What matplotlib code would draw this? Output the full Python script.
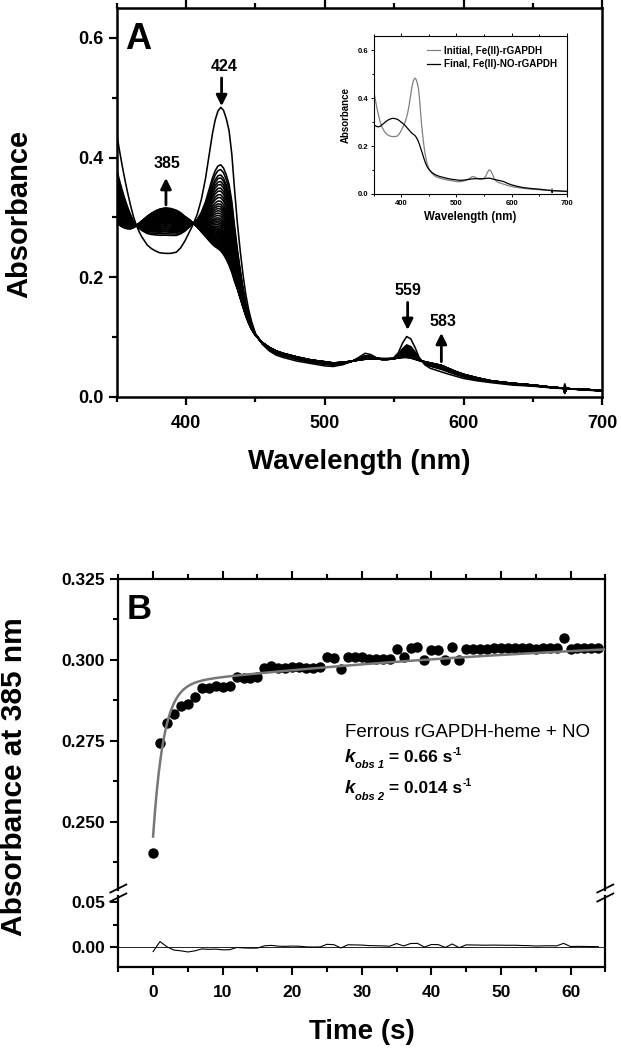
import numpy as np
import matplotlib
matplotlib.use('Agg')
import matplotlib.pyplot as plt
from matplotlib.ticker import MultipleLocator, FormatStrFormatter
from matplotlib.lines import Line2D
from matplotlib.transforms import IdentityTransform

plt.rcParams['font.family'] = ['Liberation Sans', 'DejaVu Sans']
plt.rcParams['font.weight'] = 'bold'
plt.rcParams['axes.labelweight'] = 'bold'

# ---------------- Panel A data ----------------
wavelength = [350, 352, 354, 356, 358, 360, 362, 364, 366, 368, 370, 372, 375, 378, 381,
              385, 389, 393, 396, 399, 402, 405, 408, 411, 414, 417, 419, 421, 423, 425,
              427, 429, 431, 433, 435, 437, 439, 441, 443, 445, 447, 450, 455, 460, 465,
              470, 480, 490, 500, 506, 513, 520, 525, 529, 533, 537, 541, 545, 549, 553,
              556, 559, 562, 565, 568, 572, 576, 580, 584, 588, 594, 600, 610, 620, 635,
              650, 665, 672, 673, 674, 685, 700]
initial_abs = [0.440, 0.412, 0.386, 0.362, 0.340, 0.320, 0.302, 0.288, 0.277, 0.268, 0.261, 0.254,
               0.248, 0.244, 0.241, 0.240, 0.240, 0.242, 0.249, 0.260, 0.274, 0.288, 0.305, 0.330,
               0.365, 0.410, 0.440, 0.463, 0.478, 0.484, 0.479, 0.465, 0.445, 0.405, 0.345, 0.290,
               0.245, 0.205, 0.172, 0.147, 0.128, 0.106, 0.088, 0.077, 0.070, 0.066, 0.060, 0.056,
               0.052, 0.051, 0.054, 0.060, 0.067, 0.073, 0.071, 0.066, 0.062, 0.062, 0.064, 0.074,
               0.090, 0.101, 0.097, 0.083, 0.066, 0.054, 0.048, 0.045, 0.042, 0.039, 0.035, 0.031,
               0.027, 0.024, 0.020, 0.018, 0.015, 0.014, 0.022, 0.014, 0.012, 0.010]
final_abs = [0.292, 0.287, 0.284, 0.282, 0.281, 0.281, 0.283, 0.286, 0.290, 0.294, 0.298, 0.302,
             0.307, 0.311, 0.314, 0.316, 0.315, 0.312, 0.308, 0.302, 0.297, 0.291, 0.284, 0.276,
             0.268, 0.260, 0.255, 0.251, 0.248, 0.244, 0.238, 0.230, 0.220, 0.208, 0.193, 0.180,
             0.165, 0.150, 0.136, 0.124, 0.114, 0.103, 0.091, 0.083, 0.077, 0.073, 0.067, 0.062,
             0.059, 0.057, 0.058, 0.060, 0.062, 0.063, 0.064, 0.064, 0.064, 0.064, 0.064, 0.065,
             0.066, 0.066, 0.065, 0.063, 0.061, 0.059, 0.057, 0.055, 0.053, 0.049, 0.043, 0.038,
             0.032, 0.027, 0.023, 0.020, 0.016, 0.015, 0.006, 0.014, 0.013, 0.011]
# absorbance at the Soret maximum of each recorded spectrum (time order)
peak424 = [0.484, 0.388, 0.380, 0.371, 0.366, 0.360, 0.355, 0.349, 0.344, 0.338, 0.333, 0.327,
           0.322, 0.318, 0.314, 0.310, 0.306, 0.302, 0.298, 0.295, 0.292, 0.289, 0.286, 0.283,
           0.280, 0.278, 0.276, 0.274, 0.272, 0.270, 0.268, 0.266, 0.264, 0.262, 0.260, 0.258,
           0.256, 0.254, 0.252, 0.250, 0.248, 0.246, 0.244]
legend_labels = ['Initial, Fe(II)-rGAPDH', 'Final, Fe(II)-NO-rGAPDH']

# ---------------- Panel B data ----------------
time_s = list(range(0, 65))
abs385 = [0.2404, 0.2745, 0.2806, 0.2833, 0.2858, 0.2864, 0.2887, 0.2915, 0.2915, 0.2921,
          0.2916, 0.2920, 0.2947, 0.2944, 0.2944, 0.2947, 0.2974, 0.2981, 0.2974, 0.2974,
          0.2979, 0.2979, 0.2974, 0.2974, 0.2977, 0.3008, 0.3005, 0.2971, 0.3008, 0.3008,
          0.3008, 0.3004, 0.3004, 0.3004, 0.3002, 0.3033, 0.3008, 0.3036, 0.3040, 0.3000,
          0.3030, 0.3030, 0.3000, 0.3040, 0.3000, 0.3033, 0.3033, 0.3033, 0.3033, 0.3036,
          0.3036, 0.3036, 0.3038, 0.3036, 0.3036, 0.3033, 0.3036, 0.3038, 0.3038, 0.3067,
          0.3033, 0.3036, 0.3036, 0.3036, 0.3036]
# double-exponential fit parameters (rates from the figure text)
k_obs1 = 0.66
k_obs2 = 0.014
A_inf = 0.3106
A_amp1 = 0.0469
A_amp2 = 0.0182

W, H = 621, 1050
fig = plt.figure(figsize=(W / 100, H / 100), dpi=100)


def rect(l, t, r, b):
    return [l / W, 1 - b / H, (r - l) / W, (b - t) / H]


# ================= Panel A =================
wl = np.array(wavelength)
Ai = np.array(initial_abs)
Af = np.array(final_abs)
i425 = wavelength.index(425)
axA = fig.add_axes(rect(116.7, 8, 602.3, 397))
for p in peak424:
    f = (p - Af[i425]) / (Ai[i425] - Af[i425])
    axA.plot(wl, Af + f * (Ai - Af), color='k', lw=1.15, solid_joinstyle='round')
axA.set_xlim(350, 700)
axA.set_ylim(0, 0.65)
axA.xaxis.set_major_locator(MultipleLocator(100))
axA.xaxis.set_minor_locator(MultipleLocator(50))
axA.yaxis.set_major_locator(MultipleLocator(0.2))
axA.yaxis.set_minor_locator(MultipleLocator(0.1))
axA.yaxis.set_major_formatter(FormatStrFormatter('%.1f'))
axA.tick_params(which='both', direction='out', top=True, right=False, width=1.6)
axA.tick_params(which='major', length=6, labelsize=13)
axA.tick_params(axis='x', which='major', pad=7)
axA.tick_params(which='minor', length=3.5)
for s in axA.spines.values():
    s.set_linewidth(1.8)
axA.set_xlabel('Wavelength (nm)', fontsize=20)
axA.set_ylabel('Absorbance', fontsize=21)
axA.xaxis.set_label_coords(0.5, (397 - 449) / 389)
axA.yaxis.set_label_coords((33.3 - 116.7) / 485.6, 0.47)
axA.text(0.017, 0.965, 'A', transform=axA.transAxes, fontsize=26, va='top', ha='left')

arrow = dict(arrowstyle='-|>', lw=2.0, color='k', mutation_scale=16, shrinkA=0, shrinkB=0)
axA.annotate('', xy=(425.6, 0.486), xytext=(425.6, 0.533), arrowprops=arrow)
axA.text(427.3, 0.545, '424', fontsize=11.5, ha='center', va='baseline')
axA.annotate('', xy=(385.5, 0.366), xytext=(385.5, 0.321), arrowprops=arrow)
axA.text(386.2, 0.383, '385', fontsize=11.5, ha='center', va='baseline')
axA.annotate('', xy=(559.7, 0.112), xytext=(559.7, 0.158), arrowprops=arrow)
axA.text(560.0, 0.171, '559', fontsize=11.5, ha='center', va='baseline')
axA.annotate('', xy=(584.0, 0.107), xytext=(584.0, 0.059), arrowprops=arrow)
axA.text(585.0, 0.118, '583', fontsize=11.5, ha='center', va='baseline')

# inset
axI = fig.add_axes(rect(373.5, 36, 567, 194))
axI.plot(wl, Ai, color='#808080', lw=0.9, label=legend_labels[0])
axI.plot(wl, Af, color='k', lw=0.9, label=legend_labels[1])
axI.set_xlim(350, 700)
axI.set_ylim(0, 0.66)
axI.xaxis.set_major_locator(MultipleLocator(100))
axI.xaxis.set_minor_locator(MultipleLocator(50))
axI.yaxis.set_major_locator(MultipleLocator(0.2))
axI.yaxis.set_minor_locator(MultipleLocator(0.1))
axI.yaxis.set_major_formatter(FormatStrFormatter('%.1f'))
axI.tick_params(which='both', direction='out', top=True, right=False, width=0.7, pad=1.5)
axI.tick_params(which='major', length=2.5, labelsize=5.5)
axI.tick_params(which='minor', length=1.5)
for s in axI.spines.values():
    s.set_linewidth(0.8)
axI.set_xlabel('Wavelength (nm)', fontsize=8.3, labelpad=3)
axI.set_ylabel('Absorbance', fontsize=7, labelpad=5)
axI.legend(loc='upper right', frameon=False, fontsize=7.1, handlelength=1.3,
           handletextpad=0.4, labelspacing=0.35, borderaxespad=0.6,
           bbox_to_anchor=(1.0, 1.0))

# ================= Panel B =================
t = np.array(time_s, dtype=float)
yB = np.array(abs385)
tfit = np.linspace(0, 65, 500)
fit_curve = A_inf - A_amp1 * np.exp(-k_obs1 * tfit) - A_amp2 * np.exp(-k_obs2 * tfit)
fit_at_t = A_inf - A_amp1 * np.exp(-k_obs1 * t) - A_amp2 * np.exp(-k_obs2 * t)
resid = yB - fit_at_t

axB1 = fig.add_axes(rect(118.3, 579, 605.3, 890))
axB2 = fig.add_axes(rect(118.3, 896, 605.3, 967), sharex=axB1)

axB1.plot(t, yB, 'o', color='k', ms=6.5, clip_on=False, zorder=2)
axB1.plot(tfit, fit_curve, color='#777777', lw=1.8, zorder=3)
axB1.set_xlim(-5, 65)
axB1.set_ylim(0.229, 0.325)
axB1.yaxis.set_major_locator(MultipleLocator(0.025))
axB1.yaxis.set_minor_locator(MultipleLocator(0.0125))
axB1.yaxis.set_major_formatter(FormatStrFormatter('%.3f'))
axB1.xaxis.set_major_locator(MultipleLocator(10))
axB1.xaxis.set_minor_locator(MultipleLocator(5))
axB1.spines['bottom'].set_visible(False)
axB1.tick_params(which='both', direction='out', top=True, bottom=False, right=False,
                 labelbottom=False, width=1.5)
axB1.tick_params(which='major', length=6, labelsize=12.5)
axB1.tick_params(which='minor', length=3.5)

axB2.axhline(0, color='k', lw=0.6)
axB2.plot(t, resid, color='k', lw=0.8)
axB2.set_ylim(-0.0222, 0.0567)
axB2.yaxis.set_major_locator(MultipleLocator(0.05))
axB2.yaxis.set_minor_locator(MultipleLocator(0.025))
axB2.yaxis.set_major_formatter(FormatStrFormatter('%.2f'))
axB2.spines['top'].set_visible(False)
axB2.tick_params(which='both', direction='out', top=False, right=False, width=1.5)
axB2.tick_params(which='major', length=6, labelsize=12.5)
axB2.tick_params(axis='x', which='major', pad=7)
axB2.tick_params(which='minor', length=3.5)
for ax in (axB1, axB2):
    for s in ax.spines.values():
        s.set_linewidth(1.6)
axB2.set_xlabel('Time (s)', fontsize=20)
axB2.xaxis.set_label_coords(0.5, -(1019 - 967) / 71)

fig.text(14 / W, 1 - 777 / H, 'Absorbance at 385 nm', rotation=90, fontsize=21.5,
         ha='center', va='center')
axB1.text(0.017, 0.955, 'B', transform=axB1.transAxes, fontsize=25, va='top', ha='left')

# break marks
for xs in (118.3, 605.3):
    for yc in (888.5, 897.5):
        fig.add_artist(Line2D([(xs - 8) / W, (xs + 8) / W],
                              [1 - (yc + 4) / H, 1 - (yc - 4) / H],
                              transform=fig.transFigure, color='k', lw=1.3))

# annotation text in panel B
fig.text(345 / W, 1 - 736.7 / H, 'Ferrous rGAPDH-heme + NO', fontsize=13.5,
         fontweight='normal', va='baseline', ha='left')

renderer = fig.canvas.get_renderer()


def seq_text(x0, base, parts):
    x = x0
    for s, size, style, dy in parts:
        tx = fig.text(x, H - (base + dy), s, fontsize=size, fontstyle=style, fontweight='bold',
                      va='baseline', ha='left', transform=IdentityTransform())
        x += tx.get_window_extent(renderer).width


seq_text(345, 761.7, [('k', 13.5, 'italic', 0), ('obs 1', 8, 'italic', 6.6),
                      (' = 0.66 s', 12.5, 'normal', 0), ('-1', 7.5, 'normal', -7)])
seq_text(345, 793.3, [('k', 13.5, 'italic', 0), ('obs 2', 8, 'italic', 6.6),
                      (' = 0.014 s', 12.5, 'normal', 0), ('-1', 7.5, 'normal', -7)])

fig.savefig('out.png', dpi=100)
